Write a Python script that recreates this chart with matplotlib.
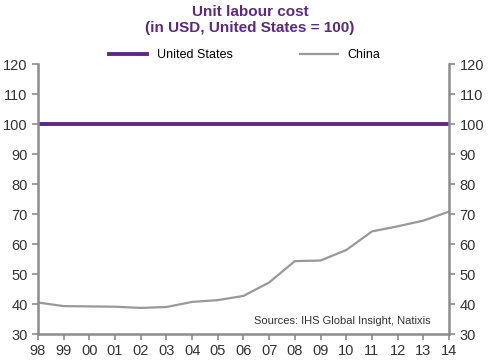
import matplotlib.pyplot as plt
import numpy as np

plt.rcParams['font.family'] = ['Liberation Sans', 'DejaVu Sans']

years = ["98", "99", "00", "01", "02", "03", "04", "05", "06",
         "07", "08", "09", "10", "11", "12", "13", "14"]
china = [40.5, 39.3, 39.2, 39.1, 38.7, 39.0, 40.7, 41.3, 42.7,
         47.2, 54.3, 54.5, 58.0, 64.2, 65.9, 67.8, 70.8]
us = [100] * len(years)
yticks = [30, 40, 50, 60, 70, 80, 90, 100, 110, 120]

purple = "#5c2a7e"
grey = "#999999"
axis_col = "#8c8c8c"

fig = plt.figure(figsize=(5, 3.64), dpi=100)
ax = fig.add_axes([0.076, 0.0824, 0.822, 0.7416])
x = np.arange(len(years))

ax.plot(x, us, color=purple, lw=2.8, label="United States")
ax.plot(x, china, color=grey, lw=1.6, label="China")

ax.set_xlim(0, len(years) - 1)
ax.set_ylim(30, 120)
ax.set_xticks(x)
ax.set_xticklabels(years)
ax.set_yticks(yticks)

for s in ["left", "right", "bottom"]:
    ax.spines[s].set_color(axis_col)
    ax.spines[s].set_linewidth(1.8)
ax.spines["top"].set_visible(False)
ax.tick_params(axis="both", colors=axis_col, labelcolor="#333333",
               labelsize=10.5, width=1.2, length=4)
ax.tick_params(axis="y", right=True, labelright=True)

fig.suptitle("Unit labour cost\n(in USD, United States = 100)", y=0.985,
             fontsize=11, fontweight="bold", color=purple, linespacing=1.15)
fig.legend(loc="center", bbox_to_anchor=(0.49, 0.849), ncol=2, frameon=False,
           fontsize=9, handlelength=3.0, columnspacing=5.4)

ax.text(0.955, 0.03, "Sources: IHS Global Insight, Natixis", transform=ax.transAxes,
        ha="right", va="bottom", fontsize=8, color="#333333")

fig.savefig("out.png", dpi=100)
